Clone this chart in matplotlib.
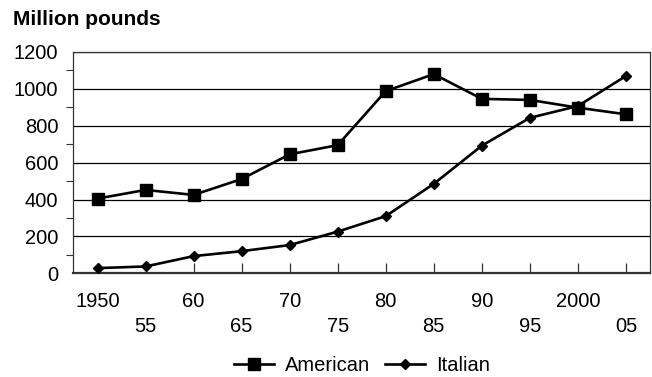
import numpy as np
import matplotlib
matplotlib.use("Agg")
from matplotlib import pyplot as plt

plt.rcParams['font.family'] = ['Liberation Sans', 'DejaVu Sans']

years = ["1950", "55", "60", "65", "70", "75", "80", "85", "90", "95", "2000", "05"]
american = [405, 452, 425, 511, 645, 695, 988, 1080, 946, 940, 898, 862]
italian = [28, 37, 93, 120, 153, 226, 310, 485, 692, 843, 907, 1070]

fig = plt.figure(figsize=(6.52, 3.77), dpi=100)
ax = fig.add_axes([0.1127, 0.2751, 0.9969 - 0.1127, 0.8621 - 0.2751])

x = np.arange(len(years))
ax.plot(x, american, color='black', lw=1.9, marker='s', markersize=8.8,
        label='American', zorder=3)
ax.plot(x, italian, color='black', lw=1.9, marker='D', markersize=5,
        label='Italian', zorder=3)

ax.set_xlim(-0.5, len(years) - 0.5)
ax.set_ylim(0, 1200)

# y axis: labelled every 200, small ticks in between
ax.set_yticks(np.arange(0, 1201, 200))
ax.set_yticks(np.arange(100, 1200, 200), minor=True)
ax.tick_params(axis='y', which='major', length=0, pad=11, labelsize=14.5)
ax.tick_params(axis='y', which='minor', length=5, width=0.8, direction='out',
               color='#333333')
ax.yaxis.grid(True, which='major', color='black', lw=0.9)

# x axis: labels alternate between two rows
ax.set_xticks(x[::2])
ax.set_xticklabels(years[::2])
ax.set_xticks(x[1::2], minor=True)
ax.set_xticklabels(years[1::2], minor=True)
ax.tick_params(axis='x', which='major', direction='in', length=7, width=0.9,
               pad=13.3, labelsize=14.5, color='#333333')
ax.tick_params(axis='x', which='minor', direction='in', length=7, width=0.9,
               pad=31.3, labelsize=14.5, color='#333333')

for side in ['left', 'right', 'top']:
    ax.spines[side].set_color('#333333')
    ax.spines[side].set_linewidth(0.9)
ax.spines['bottom'].set_color('#333333')
ax.spines['bottom'].set_linewidth(1.6)
ax.set_axisbelow(True)

fig.text(0.02, 0.934, "Million pounds", fontsize=15, fontweight='bold',
         ha='left', va='baseline')

ax.legend(loc='center', bbox_to_anchor=(0.555, 0.03), bbox_transform=fig.transFigure,
          ncol=2, frameon=False, fontsize=14.5, handlelength=2.0,
          handletextpad=0.55, columnspacing=0.7)

fig.savefig("out.png", dpi=100)
